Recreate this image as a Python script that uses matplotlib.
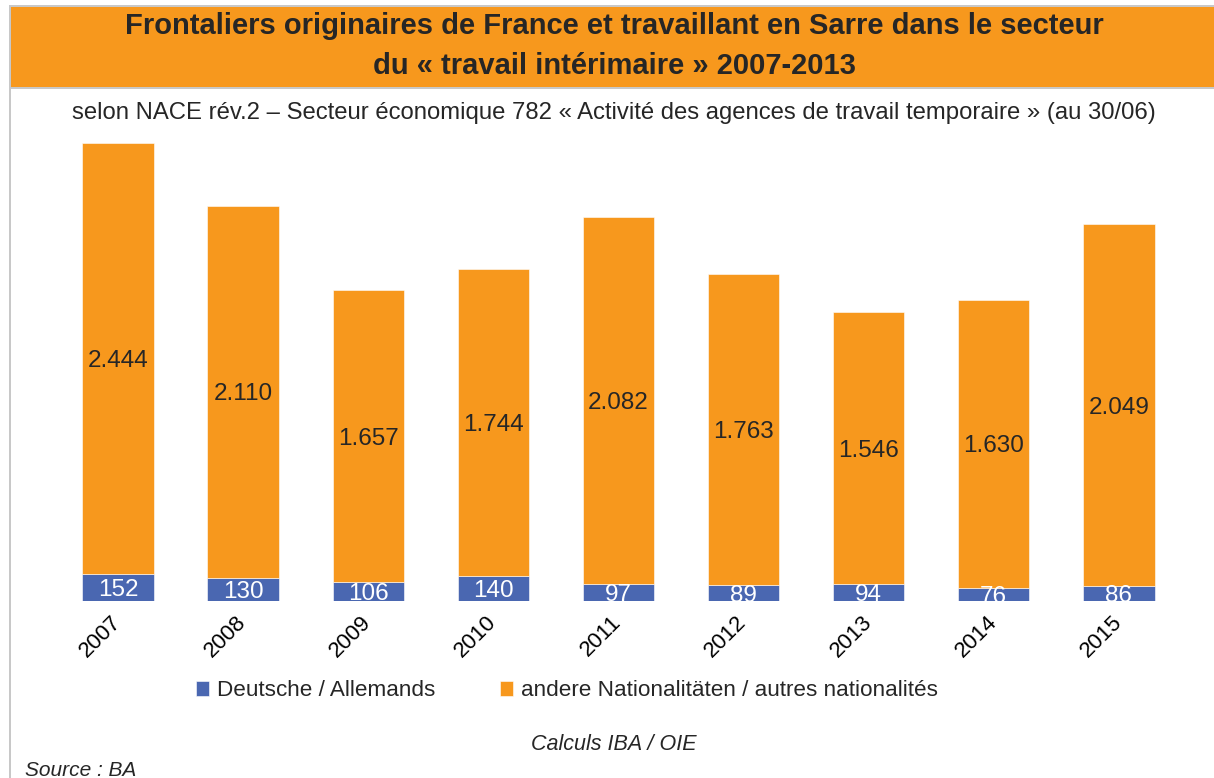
import matplotlib
matplotlib.use('Agg')
import matplotlib.pyplot as plt
from matplotlib.patches import Rectangle
import numpy as np

plt.rcParams['font.family'] = ['Liberation Sans', 'DejaVu Sans']

# data
years = ['2007', '2008', '2009', '2010', '2011', '2012', '2013', '2014', '2015']
deutsche = [152, 130, 106, 140, 97, 89, 94, 76, 86]
andere = [2444, 2110, 1657, 1744, 2082, 1763, 1546, 1630, 2049]
label_de = 'Deutsche / Allemands'
label_other = 'andere Nationalitäten / autres nationalités'

BLUE = '#4A67B1'
ORANGE = '#F7981D'
TXT = '#262626'
GREY = '#C8C8C8'

W, H = 1214, 778
fig = plt.figure(figsize=(W / 100, H / 100), dpi=100)

# frame + title band
fig.patches.append(Rectangle((9 / W, 0), 2 / W, 1 - 5 / H, transform=fig.transFigure,
                             facecolor=GREY, edgecolor='none'))
fig.patches.append(Rectangle((9 / W, 1 - 7 / H), 1 - 9 / W, 2 / H, transform=fig.transFigure,
                             facecolor=GREY, edgecolor='none'))
fig.patches.append(Rectangle((11 / W, 1 - 87 / H), 1 - 11 / W, 80 / H, transform=fig.transFigure,
                             facecolor=ORANGE, edgecolor='none'))
fig.patches.append(Rectangle((11 / W, 1 - 89 / H), 1 - 11 / W, 2 / H, transform=fig.transFigure,
                             facecolor=GREY, edgecolor='none'))

fig.text(614 / W, 1 - 26 / H, 'Frontaliers originaires de France et travaillant en Sarre dans le secteur',
         ha='center', va='center', fontsize=21, fontweight='bold', color=TXT)
fig.text(614 / W, 1 - 66 / H, 'du « travail intérimaire » 2007-2013',
         ha='center', va='center', fontsize=21, fontweight='bold', color=TXT)
fig.text(614 / W, 1 - 113 / H,
         'selon NACE rév.2 – Secteur économique 782 « Activité des agences de travail temporaire » (au 30/06)',
         ha='center', va='center', fontsize=17.2, color=TXT)

# plot area
ymax = 2650
bottom = (H - 601) / H
ax = fig.add_axes([55.4 / W, bottom, 1126 / W, (ymax * 0.1764) / H])
x = np.arange(len(years))
b1 = ax.bar(x, deutsche, width=0.57, color=BLUE, edgecolor='#FFFFFF', linewidth=0.4, label=label_de)
b2 = ax.bar(x, andere, width=0.57, bottom=deutsche, color=ORANGE, edgecolor='#FFFFFF',
            linewidth=0.4, label=label_other)
ax.set_xlim(-0.5, len(years) - 0.5)
ax.set_ylim(0, ymax)
for s in ax.spines.values():
    s.set_visible(False)
ax.set_yticks([])
ax.set_xticks(x)
ax.set_xticklabels(years, rotation=45, fontsize=16, color='black',
                   ha='right', va='center', rotation_mode='anchor')
ax.tick_params(axis='x', length=0, pad=13)

for i in range(len(years)):
    ax.text(x[i], deutsche[i] / 2, str(deutsche[i]), ha='center', va='center_baseline',
            fontsize=17.5, color='white', clip_on=True)
    ax.text(x[i], deutsche[i] + andere[i] / 2, f'{andere[i] // 1000}.{andere[i] % 1000:03d}',
            ha='center', va='center_baseline', fontsize=17.5, color=TXT)

leg = fig.legend(handles=[b1, b2], loc='center', bbox_to_anchor=(567 / W, 1 - 691 / H), ncol=2,
                 frameon=False, fontsize=16.2, handlelength=0.6, handleheight=0.6,
                 handletextpad=0.35, columnspacing=2.85)
for t in leg.get_texts():
    t.set_color(TXT)

fig.text(614 / W, 1 - 745 / H, 'Calculs IBA / OIE', ha='center', va='center',
         fontsize=15.5, style='italic', color=TXT)
fig.text(25 / W, 1 - 770 / H, 'Source : BA', ha='left', va='center',
         fontsize=15, style='italic', color=TXT)

fig.savefig('out.png', dpi=100)
